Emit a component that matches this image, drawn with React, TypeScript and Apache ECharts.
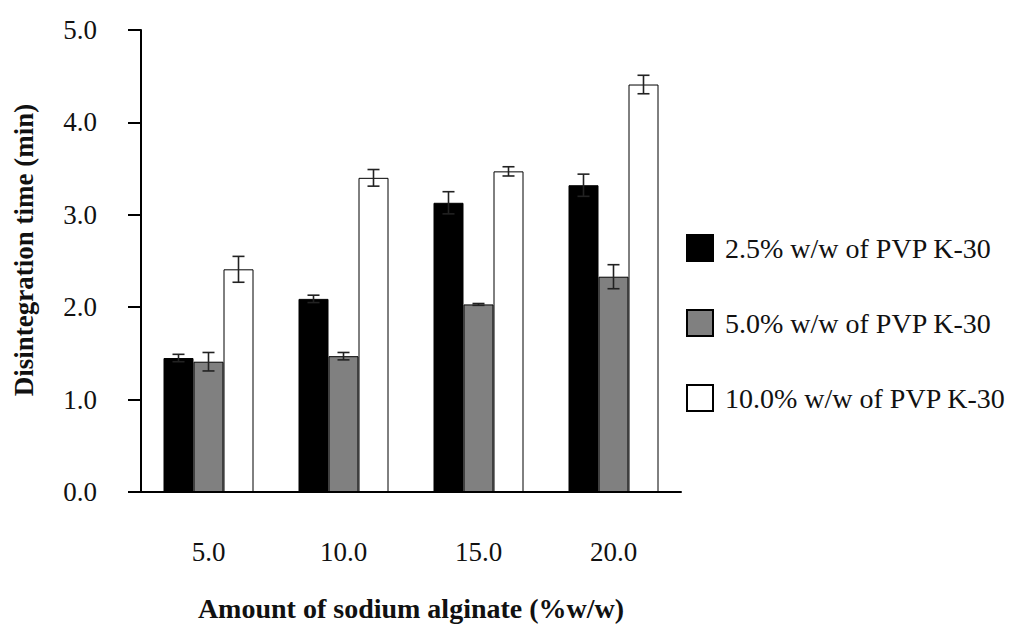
import React, { useEffect, useRef } from "react";
import * as echarts from "echarts";

// Amount of sodium alginate (% w/w)
const categories = ["5.0", "10.0", "15.0", "20.0"];

const seriesNames = [
  "2.5% w/w of PVP K-30",
  "5.0% w/w of PVP K-30",
  "10.0% w/w of PVP K-30",
];

// Mean disintegration time (min)
const pvp25 = [1.45, 2.09, 3.13, 3.32];
const pvp50 = [1.41, 1.47, 2.03, 2.33];
const pvp100 = [2.41, 3.40, 3.47, 4.41];

// Standard deviation (min)
const pvp25Err = [0.04, 0.04, 0.12, 0.12];
const pvp50Err = [0.1, 0.04, 0.01, 0.13];
const pvp100Err = [0.14, 0.09, 0.05, 0.1];

const yTicks = [0, 1, 2, 3, 4, 5];

const yTitle = "Disintegration time (min)";
const xTitle = "Amount of sodium alginate (%w/w)";

const fills = ["#000000", "#808080", "#ffffff"];
const FONT = "'Liberation Serif', 'Times New Roman', serif";
const BAR_W = 30;

export default function App() {
  const ref = useRef<HTMLDivElement>(null);

  useEffect(() => {
    if (!ref.current) return;
    const chart = echarts.init(ref.current, null, { renderer: "svg" });

    const means = [pvp25, pvp50, pvp100];
    const errs = [pvp25Err, pvp50Err, pvp100Err];

    const errData: number[][] = [];
    means.forEach((vals, s) => {
      vals.forEach((v, i) => errData.push([i, v, errs[s][i], s]));
    });

    const barSeries = means.map((vals, s) => ({
      name: seriesNames[s],
      type: "bar",
      data: vals,
      barWidth: BAR_W,
      barGap: "0%",
      itemStyle: { color: fills[s], borderColor: "#000", borderWidth: 1 },
      z: 2,
    }));

    chart.setOption({
      animation: false,
      backgroundColor: "#fff",
      grid: {
        left: 141,
        right: 329,
        top: 30,
        bottom: 136,
        containLabel: false,
        outerBoundsMode: "none",
      },
      legend: {
        orient: "vertical",
        left: 686,
        top: 234,
        padding: 0,
        icon: "rect",
        itemWidth: 26,
        itemHeight: 26,
        itemGap: 47,
        selectedMode: false,
        data: seriesNames,
        textStyle: {
          fontFamily: FONT,
          fontSize: 28,
          lineHeight: 26,
          color: "#111",
          padding: [0, 0, 0, 7],
        },
      },
      graphic: [
        {
          type: "text",
          x: 24,
          y: 250,
          rotation: Math.PI / 2,
          style: {
            text: yTitle,
            fontFamily: FONT,
            fontSize: 27,
            fontWeight: "bold",
            fill: "#111",
            align: "center",
            verticalAlign: "middle",
          },
        },
      ],
      xAxis: {
        type: "category",
        data: categories,
        axisLine: { lineStyle: { color: "#000", width: 2 } },
        axisTick: { show: false },
        axisLabel: {
          fontFamily: FONT,
          fontSize: 27,
          color: "#111",
          margin: 46,
        },
        name: xTitle,
        nameLocation: "middle",
        nameGap: 102,
        nameTextStyle: {
          fontFamily: FONT,
          fontSize: 28,
          fontWeight: "bold",
          color: "#111",
        },
      },
      yAxis: {
        type: "value",
        min: yTicks[0],
        max: yTicks[yTicks.length - 1],
        interval: 1,
        splitLine: { show: false },
        axisLine: { show: true, lineStyle: { color: "#000", width: 2 } },
        axisTick: { show: true, length: 13, lineStyle: { color: "#000", width: 2 } },
        axisLabel: {
          fontFamily: FONT,
          fontSize: 27,
          color: "#111",
          margin: 44,
          formatter: (v: number) => v.toFixed(1),
        },
      },
      series: [
        ...barSeries,
        {
          type: "custom",
          name: "sd",
          data: errData,
          z: 5,
          encode: { x: 0, y: 1 },
          renderItem: (_params: any, api: any) => {
            const cat = api.value(0);
            const mean = api.value(1);
            const err = api.value(2);
            const s = api.value(3);
            const top = api.coord([cat, mean + err]);
            const bot = api.coord([cat, mean - err]);
            const x = top[0] + (s - 1) * BAR_W;
            const cap = 6;
            const style = { stroke: "#222", lineWidth: 1.6 };
            return {
              type: "group",
              children: [
                { type: "line", shape: { x1: x, y1: top[1], x2: x, y2: bot[1] }, style },
                { type: "line", shape: { x1: x - cap, y1: top[1], x2: x + cap, y2: top[1] }, style },
                { type: "line", shape: { x1: x - cap, y1: bot[1], x2: x + cap, y2: bot[1] }, style },
              ],
            };
          },
        },
      ],
    });

    return () => chart.dispose();
  }, []);

  return (
    <div
      ref={ref}
      style={{ position: "fixed", left: 0, top: 0, width: 1010, height: 628, background: "#fff" }}
    />
  );
}
